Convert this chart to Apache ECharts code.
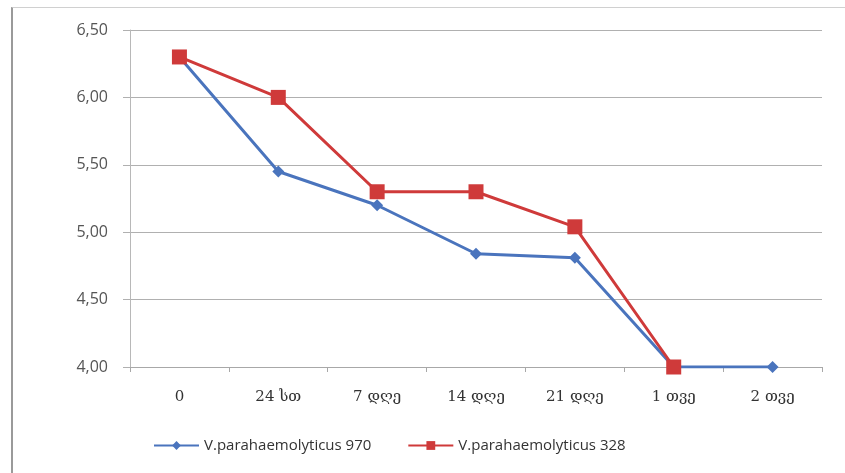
<!DOCTYPE html>
<html>
<head>
<meta charset="utf-8">
<script src="https://cdn.jsdelivr.net/npm/echarts@6/dist/echarts.min.js"></script>
<style>
html, body { margin: 0; padding: 0; background: #fff; }
#frame { position: absolute; left: 11px; top: 7px; width: 834px; height: 466px;
  border-left: 2px solid #9a9a9a; border-top: 1px solid #d0d0d0; box-sizing: border-box; }
#chart { position: absolute; left: 0; top: 0; width: 845px; height: 473px; }
</style>
</head>
<body>
<div id="frame"></div>
<div id="chart"></div>
<script>
// დროის წერტილები
var categories = ['0', '24 სთ', '7 დღე', '14 დღე', '21 დღე', '1 თვე', '2 თვე'];
var strain970 = [6.30, 5.45, 5.20, 4.84, 4.81, 4.00, 4.00];
var strain328 = [6.30, 6.00, 5.30, 5.30, 5.04, 4.00, null];
var seriesNames = ['V.parahaemolyticus 970', 'V.parahaemolyticus 328'];

function fmt(v) {
    return v.toFixed(2).replace('.', ',');
}

function initChartView() {
    var chart = echarts.init(document.getElementById('chart'));
    var option = {
        animation: false,
        backgroundColor: 'transparent',
        grid: { left: 130, right: 23, top: 30, bottom: 106 },
        legend: {
            left: 148, top: 433,
            itemWidth: 45, itemHeight: 11, itemGap: 36,
            textStyle: { fontFamily: 'Open Sans, sans-serif', fontSize: 15, color: '#333' },
            data: seriesNames
        },
        xAxis: {
            type: 'category',
            data: categories,
            boundaryGap: true,
            axisLine: { lineStyle: { color: '#a8a8a8', width: 1 } },
            axisTick: { show: true, length: 5, lineStyle: { color: '#a8a8a8' } },
            axisLabel: { margin: 23, fontFamily: 'DejaVu Serif, serif', fontSize: 15, color: '#333' }
        },
        yAxis: {
            type: 'value',
            min: 4, max: 6.5, interval: 0.5,
            axisLine: { show: true, lineStyle: { color: '#b8b8b8', width: 1 } },
            axisTick: { show: true, length: 7, lineStyle: { color: '#b0b0b0' } },
            splitLine: { lineStyle: { color: '#b0b0b0', width: 1 } },
            axisLabel: { margin: 22, formatter: fmt, fontFamily: 'Open Sans, sans-serif', fontSize: 16, color: '#555' }
        },
        series: [
            {
                name: seriesNames[0],
                type: 'line',
                data: strain970,
                symbol: 'diamond',
                symbolSize: 12,
                lineStyle: { color: '#4a74bd', width: 3 },
                itemStyle: { color: '#4a74bd' },
                z: 2
            },
            {
                name: seriesNames[1],
                type: 'line',
                data: strain328,
                symbol: 'rect',
                symbolSize: 15,
                lineStyle: { color: '#cf3a3a', width: 3 },
                itemStyle: { color: '#cf3a3a' },
                z: 3
            }
        ]
    };
    chart.setOption(option);
}

initChartView();
</script>
</body>
</html>
